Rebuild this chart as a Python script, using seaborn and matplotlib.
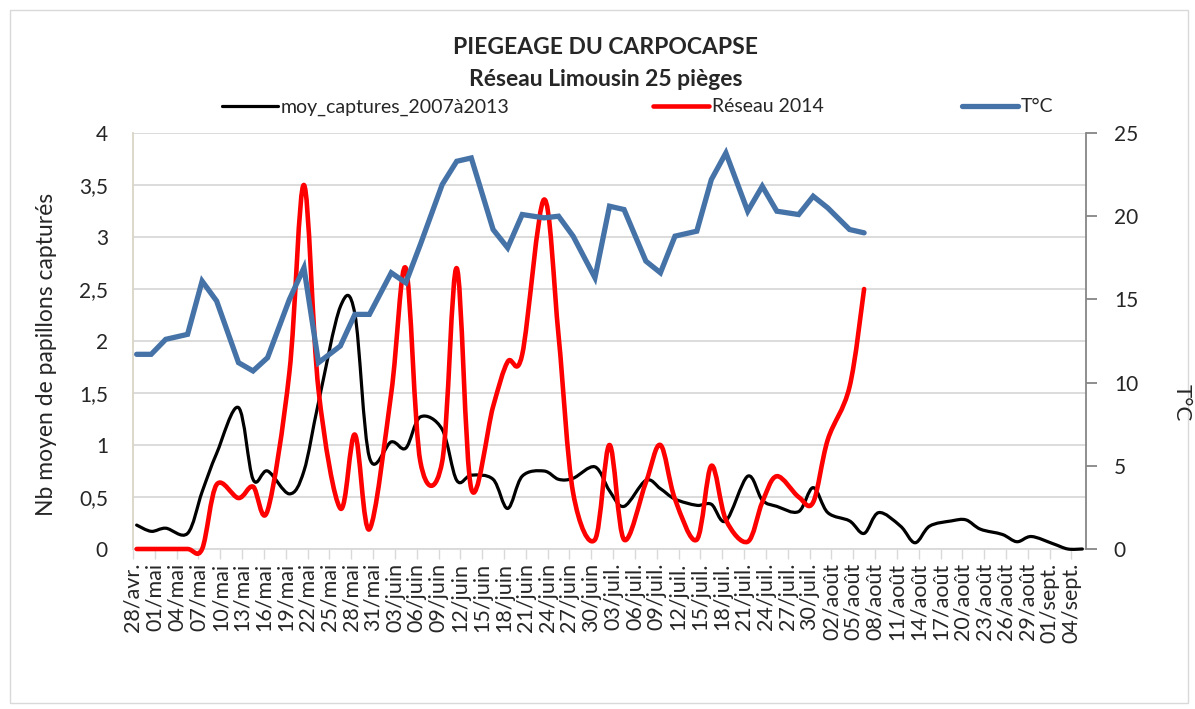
import matplotlib
matplotlib.use('Agg')
import matplotlib.pyplot as plt
import seaborn as sns
import numpy as np
from matplotlib.path import Path
from matplotlib.patches import PathPatch, Rectangle
from matplotlib.lines import Line2D

# Jours depuis le 28/avr. (relevés lundi / mercredi / vendredi)
jours_2014 = [0, 2, 4, 7, 9, 11, 14, 16, 18, 21, 23, 25, 28, 30, 32, 35, 37, 39, 42, 44,
              46, 49, 51, 53, 56, 58, 60, 63, 65, 67, 70, 72, 74, 77, 79, 81, 84, 86, 88,
              91, 93, 95, 98, 100]
jours_moy = jours_2014 + [102, 105, 107, 109, 112, 114, 116, 119, 121, 123, 126, 128, 130]

moy_captures = [0.23, 0.17, 0.20, 0.15, 0.55, 0.92, 1.36, 0.67, 0.75, 0.53, 0.75, 1.41,
                2.33, 2.26, 0.88, 1.03, 0.97, 1.27, 1.15, 0.66, 0.71, 0.67, 0.39, 0.70,
                0.75, 0.67, 0.68, 0.79, 0.56, 0.41, 0.66, 0.58, 0.48, 0.42, 0.43, 0.27,
                0.70, 0.47, 0.41, 0.36, 0.59, 0.35, 0.27, 0.15, 0.35, 0.22, 0.06, 0.22,
                0.27, 0.28, 0.19, 0.14, 0.07, 0.12, 0.05, 0.0, 0.0]
reseau_2014 = [0, 0, 0, 0, 0, 0.62, 0.49, 0.60, 0.37, 1.70, 3.50, 1.53, 0.39, 1.10, 0.19,
               1.50, 2.70, 0.84, 0.84, 2.70, 0.58, 1.37, 1.80, 1.87, 3.36, 2.05, 0.54,
               0.09, 1.00, 0.09, 0.64, 1.00, 0.48, 0.09, 0.80, 0.28, 0.07, 0.45, 0.70,
               0.50, 0.45, 1.05, 1.56, 2.50]
temperature = [11.7, 11.7, 12.6, 12.9, 16.1, 14.9, 11.2, 10.7, 11.5, 15.0, 16.9, 11.2,
               12.2, 14.1, 14.1, 16.6, 16.0, 18.3, 21.9, 23.3, 23.5, 19.2, 18.1, 20.1,
               19.9, 20.0, 18.8, 16.3, 20.6, 20.4, 17.3, 16.6, 18.8, 19.1, 22.2, 23.8,
               20.3, 21.8, 20.3, 20.1, 21.2, 20.5, 19.2, 19.0]

labels_x = ['28/avr.', '01/mai', '04/mai', '07/mai', '10/mai', '13/mai', '16/mai', '19/mai',
            '22/mai', '25/mai', '28/mai', '31/mai', '03/juin', '06/juin', '09/juin',
            '12/juin', '15/juin', '18/juin', '21/juin', '24/juin', '27/juin', '30/juin',
            '03/juil.', '06/juil.', '09/juil.', '12/juil.', '15/juil.', '18/juil.',
            '21/juil.', '24/juil.', '27/juil.', '30/juil.', '02/août', '05/août',
            '08/août', '11/août', '14/août', '17/août', '20/août', '23/août', '26/août',
            '29/août', '01/sept.', '04/sept.']

C_NOIR, C_ROUGE, C_BLEU = '#000000', '#ff0000', '#4572a7'

sns.set_style('white')
plt.rcParams['font.family'] = ['Lato', 'DejaVu Sans']


def courbe_lissee(ax, x, y, color, lw):
    # courbe lissée façon Excel (Bézier type Catmull-Rom)
    pts = np.column_stack([x, y]).astype(float)
    n = len(pts)
    verts, codes = [pts[0]], [Path.MOVETO]
    for i in range(n - 1):
        p0, p1 = pts[max(i - 1, 0)], pts[i]
        p2, p3 = pts[i + 1], pts[min(i + 2, n - 1)]
        verts += [p1 + (p2 - p0) / 6, p2 - (p3 - p1) / 6, p2]
        codes += [Path.CURVE4] * 3
    patch = PathPatch(Path(verts, codes), fill=False, edgecolor=color, lw=lw,
                      capstyle='round', joinstyle='round', zorder=3, clip_on=False)
    ax.add_patch(patch)


fig = plt.figure(figsize=(11.95, 7.09), dpi=100)
fig.patches.append(Rectangle((10 / 1195, 6 / 709), 1178 / 1195, 693 / 709,
                             transform=fig.transFigure, fill=False,
                             edgecolor='#d9d9d9', lw=1))
ax = fig.add_axes([133 / 1195, 1 - 549 / 709, 953 / 1195, 416 / 709])

# centre de chaque jour sur l'axe des dates
x_moy = np.array(jours_moy) + 0.5
x_2014 = np.array(jours_2014) + 0.5

courbe_lissee(ax, x_moy, moy_captures, C_NOIR, 2.3)
courbe_lissee(ax, x_2014, reseau_2014, C_ROUGE, 3.3)

ax.set_xlim(0, 131)
ax.set_ylim(0, 4)
ax.set_yticks(np.arange(0, 4.01, 0.5))
ax.set_yticklabels([f'{v:g}'.replace('.', ',') for v in np.arange(0, 4.01, 0.5)])
ax.set_xticks(np.arange(0, 130, 3))
ax.set_xticklabels(labels_x, rotation=90)
ax.yaxis.grid(True, color='#d9d9d9', lw=1.3)
ax.set_axisbelow(True)
ax.tick_params(axis='y', length=0, pad=18, labelsize=15)
ax.tick_params(axis='x', length=7, width=1, color='#d9d9d9', direction='out',
               pad=3, labelsize=15.5, bottom=True)
for s in ['top', 'right']:
    ax.spines[s].set_visible(False)
ax.spines['left'].set_color('#d9d5c6')
ax.spines['bottom'].set_color('#d9d9d9')
ax.spines['left'].set_linewidth(1.3)
ax.spines['bottom'].set_linewidth(1.3)

ax2 = ax.twinx()
sns.lineplot(x=x_2014, y=temperature, ax=ax2, color=C_BLEU, lw=3.8, legend=False,
             solid_joinstyle='miter')
ax2.set_ylim(0, 25)
ax2.set_yticks(range(0, 26, 5))
ax2.set_ylabel('')
for s in ['top', 'left', 'bottom']:
    ax2.spines[s].set_visible(False)
ax2.spines['right'].set_color('#868686')
ax2.spines['right'].set_linewidth(1.3)
ax2.tick_params(axis='y', length=8, width=1.3, color='#868686', pad=12, labelsize=15)

fig.text(47 / 1195, 1 - 354 / 709, 'Nb moyen de papillons capturés', rotation=90,
         ha='center', va='center', fontsize=16.5)
fig.text(1182 / 1195, 1 - 403 / 709, 'T°C', rotation=270, ha='center', va='center',
         fontsize=16)

fig.text(0.507, 1 - 47 / 709, 'PIEGEAGE DU CARPOCAPSE', ha='center', va='center',
         fontsize=16.5, fontweight='bold')
fig.text(0.507, 1 - 80 / 709, 'Réseau Limousin 25 pièges', ha='center', va='center',
         fontsize=16.5, fontweight='bold')

entrees = [('moy_captures_2007à2013', C_NOIR, 2.3, 222),
           ('Réseau 2014', C_ROUGE, 3.3, 653),
           ('T°C', C_BLEU, 3.8, 962)]
for nom, col, lw, xpos in entrees:
    h = Line2D([], [], color=col, lw=lw)
    fig.legend(handles=[h], labels=[nom], loc='center left',
               bbox_to_anchor=(xpos / 1195, 1 - 107 / 709), frameon=False,
               handlelength=2.9, handletextpad=0.12, borderpad=0, borderaxespad=0,
               fontsize=14)

fig.savefig('out.png', dpi=100)
